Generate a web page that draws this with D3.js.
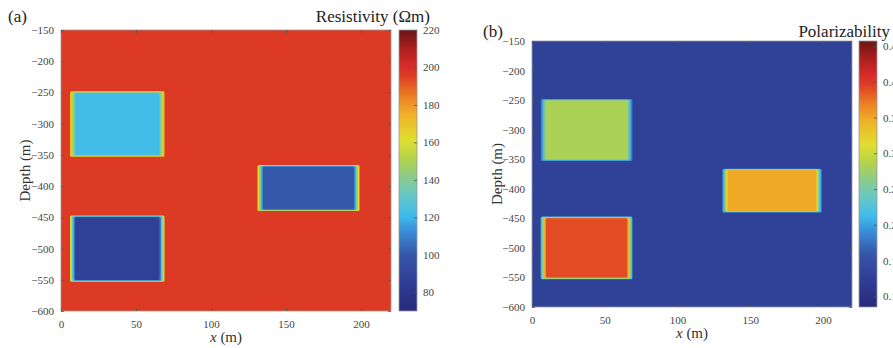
<!DOCTYPE html>
<html>
<head>
<meta charset="utf-8">
<script src="https://cdn.jsdelivr.net/npm/d3@7"></script>
<style>
  body { margin:0; background:#fff; }
</style>
</head>
<body>
<div id="chart"></div>
<script>
// model blocks (x in m, depth in m)
const blockNames = ["upper left", "lower left", "right"];
const blockX0 = [6, 6, 131];
const blockX1 = [69, 69, 199];
const blockTop = [-248, -447, -366];
const blockBottom = [-353, -553, -440];

const resBackground = 196;
const resistivity = [122, 87, 101];
const polBackground = 0.13;
const polarizability = [0.282, 0.390, 0.349];

const xTicks = [0, 50, 100, 150, 200];
const yTicks = [-150, -200, -250, -300, -350, -400, -450, -500, -550, -600];
const resTicks = [80, 100, 120, 140, 160, 180, 200, 220];
const polTicks = [0.1, 0.15, 0.2, 0.25, 0.3, 0.35, 0.4, 0.45];

// colormap stops (t from bottom to top of colorbar)
const cmapT = [0, 0.10, 0.20, 0.28, 0.34, 0.42, 0.48, 0.54, 0.61, 0.70, 0.77, 0.84, 0.88, 0.94, 1];
const cmapC = ["#262a7c","#2f3d94","#3556a8","#3a8ad6","#3dbcec","#6cc8c0","#8ccb88","#b2d24c",
               "#e0df30","#f0b028","#ea7a24","#dd3a26","#d42828","#a61e1e","#6a1616"];
const cmap = d3.scaleLinear().domain(cmapT).range(cmapC).interpolate(d3.interpolateRgb).clamp(true);

const FONT = "'Liberation Serif', 'DejaVu Serif', serif";
const W = 893, H = 348;
const svg = d3.select("#chart").append("svg").attr("width", W).attr("height", H)
  .attr("font-family", FONT);

const panels = [
  {label:"(a)", title:"Resistivity (\u03A9m)", x0:61, x1:391, y0:30, y1:311, cbX:399,
   dom:[70, 220], bg:resBackground, vals:resistivity, ticks:resTicks, fmt:d=>d,
   labX:8, labY:22, titleX:430, titleY:22, xlabY:342, ylabX:25},
  {label:"(b)", title:"Polarizability", x0:532, x1:852, y0:41, y1:307, cbX:859,
   dom:[0.085, 0.457], bg:polBackground, vals:polarizability, ticks:polTicks, fmt:d=>String(d),
   labX:483, labY:37, titleX:890, titleY:37, xlabY:338, ylabX:497}
];

const defs = svg.append("defs");

panels.forEach((p, pi) => {
  const x = d3.scaleLinear().domain([0, 220]).range([p.x0, p.x1]);
  const y = d3.scaleLinear().domain([-150, -600]).range([p.y0, p.y1]);
  const t = d3.scaleLinear().domain(p.dom).range([0, 1]);
  const col = v => cmap(t(v));
  const g = svg.append("g");

  // background
  g.append("rect").attr("x", p.x0).attr("y", p.y0).attr("width", p.x1 - p.x0).attr("height", p.y1 - p.y0)
    .attr("fill", col(p.bg));

  // blocks with smoothed edges (nested rects)
  const levels = [{f:0.35, d:0}, {f:0.6, d:1.2}, {f:0.82, d:2.4}, {f:1, d:3.4}];
  blockNames.forEach((name, i) => {
    levels.forEach(l => {
      const v = p.bg + (p.vals[i] - p.bg) * l.f;
      const dd = l.d, dy = l.d * 0.8;
      g.append("rect")
        .attr("x", x(blockX0[i] + dd)).attr("y", y(blockTop[i] - dy))
        .attr("width", x(blockX1[i] - dd) - x(blockX0[i] + dd))
        .attr("height", y(blockBottom[i] + dy) - y(blockTop[i] - dy))
        .attr("rx", 1.5)
        .attr("fill", col(v));
    });
  });

  // frame
  g.append("rect").attr("x", p.x0).attr("y", p.y0).attr("width", p.x1 - p.x0).attr("height", p.y1 - p.y0)
    .attr("fill", "none").attr("stroke", "#9a9a9a").attr("stroke-width", 0.8);

  // axes (ticks inward)
  const ax = (axis, tr) => {
    const a = g.append("g").attr("transform", tr).call(axis);
    a.attr("font-family", FONT);
    a.select(".domain").remove();
    a.selectAll("line").attr("stroke", "#555").attr("stroke-width", 0.8);
    a.selectAll("text").attr("fill", "#444").attr("font-family", FONT).style("font-size", "11px");
    return a;
  };
  ax(d3.axisBottom(x).tickValues(xTicks).tickSize(-3).tickPadding(9), `translate(0,${p.y1})`);
  ax(d3.axisTop(x).tickValues(xTicks).tickSize(-3).tickFormat(""), `translate(0,${p.y0})`);
  ax(d3.axisLeft(y).tickValues(yTicks).tickSize(-3).tickPadding(7), `translate(${p.x0},0)`);
  ax(d3.axisRight(y).tickValues(yTicks).tickSize(-3).tickFormat(""), `translate(${p.x1},0)`);

  // colorbar
  const cbW = 18;
  const cy = d3.scaleLinear().domain(p.dom).range([p.y1, p.y0]);
  const gid = "cb" + pi;
  const grad = defs.append("linearGradient").attr("id", gid)
    .attr("x1", 0).attr("y1", 1).attr("x2", 0).attr("y2", 0);
  grad.selectAll("stop").data(cmapT).join("stop")
    .attr("offset", d => d).attr("stop-color", (d, k) => cmapC[k]);
  g.append("rect").attr("x", p.cbX).attr("y", p.y0).attr("width", cbW).attr("height", p.y1 - p.y0)
    .attr("fill", `url(#${gid})`).attr("stroke", "#9a9a9a").attr("stroke-width", 0.8);
  ax(d3.axisRight(cy).tickValues(p.ticks).tickSize(-3).tickPadding(6).tickFormat(p.fmt),
     `translate(${p.cbX + cbW},0)`);

  // labels
  svg.append("text").attr("x", p.labX).attr("y", p.labY).attr("fill", "#222")
    .style("font-size", "17px").text(p.label);
  svg.append("text").attr("x", p.titleX).attr("y", p.titleY).attr("text-anchor", "end").attr("fill", "#222")
    .style("font-size", "17px").text(p.title);
  const xl = svg.append("text").attr("x", (p.x0 + p.x1) / 2).attr("y", p.xlabY).attr("text-anchor", "middle")
    .attr("fill", "#333").style("font-size", "15px");
  xl.append("tspan").style("font-style", "italic").text("x");
  xl.append("tspan").text(" (m)");
  svg.append("text").attr("transform", `translate(${p.ylabX},${(p.y0 + p.y1) / 2}) rotate(-90)`)
    .attr("text-anchor", "middle").attr("dy", "0.35em").attr("fill", "#333").style("font-size", "15px")
    .text("Depth (m)");
});
</script>
</body>
</html>
